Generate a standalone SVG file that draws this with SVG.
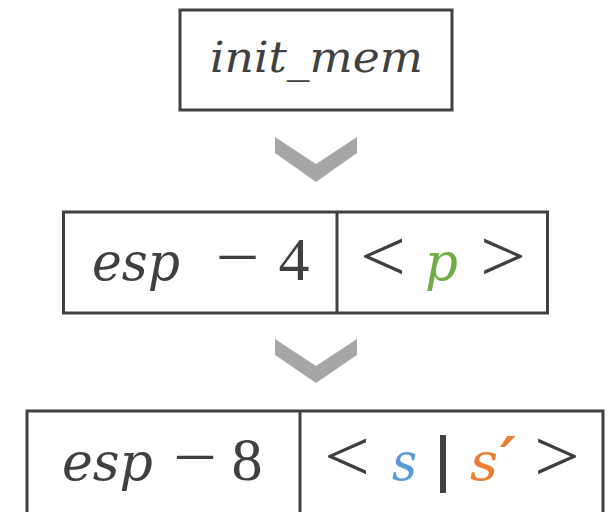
<svg xmlns="http://www.w3.org/2000/svg" width="608" height="512" viewBox="0 0 608 512">
<style>
.box{fill:#ffffff;stroke:#404040;stroke-width:3}
.div{stroke:#404040;stroke-width:3}
.var{font-family:"DejaVu Serif","Liberation Serif",serif;font-style:italic;fill:#404040}
.op{font-family:"Liberation Serif","DejaVu Serif",serif;fill:#404040;font-size:62px;text-anchor:middle}
.rel{font-family:"Liberation Serif","DejaVu Serif",serif;fill:#404040;font-size:74px;text-anchor:middle}
.chev{fill:#a6a6a6}
</style>
<rect width="608" height="512" fill="#ffffff"/>
<g id="init_mem">
<rect class="box" x="180" y="10" width="272" height="100"/>
<text class="var" x="210" y="72" font-size="42" textLength="213" lengthAdjust="spacingAndGlyphs">init_mem</text>
</g>
<g id="connectors">
<polygon class="chev" points="275,137 316,164 357,137 357,153 316,182 275,153"/>
<polygon class="chev" points="275,339 316,366 357,339 357,355 316,383 275,355"/>
</g>
<g id="esp4">
<rect class="box" x="63.5" y="212" width="484" height="101"/>
<line class="div" x1="337" y1="212" x2="337" y2="313"/>
<text class="var" x="92" y="280" font-size="52" textLength="88" lengthAdjust="spacingAndGlyphs">esp</text>
<text class="op" x="237.5" y="280" font-size="68" style="font-size:68px" textLength="44" lengthAdjust="spacingAndGlyphs">−</text>
<text class="op" x="294" y="280">4</text>
<text class="rel" x="383" y="281" textLength="46" lengthAdjust="spacingAndGlyphs">&lt;</text>
<text class="var" x="425" y="280" font-size="52" textLength="33" lengthAdjust="spacingAndGlyphs" style="fill:#70ad47">p</text>
<text class="rel" x="503" y="281" textLength="46" lengthAdjust="spacingAndGlyphs">&gt;</text>
</g>
<g id="esp8">
<rect class="box" x="27" y="411" width="576" height="120"/>
<line class="div" x1="300" y1="411" x2="300" y2="512"/>
<text class="var" x="62" y="480" font-size="52" textLength="91" lengthAdjust="spacingAndGlyphs">esp</text>
<text class="op" x="195" y="480" style="font-size:68px" textLength="44" lengthAdjust="spacingAndGlyphs">−</text>
<text class="op" x="247" y="480">8</text>
<text class="rel" x="347" y="481" textLength="46" lengthAdjust="spacingAndGlyphs">&lt;</text>
<text class="var" x="392" y="480" font-size="52" textLength="25" lengthAdjust="spacingAndGlyphs" style="fill:#5b9bd5">s</text>
<rect x="440" y="435" width="6" height="58" fill="#404040"/>
<text class="var" x="470" y="480" font-size="52" textLength="28" lengthAdjust="spacingAndGlyphs" style="fill:#ed7d31">s</text>
<text class="var" x="500" y="480" font-size="60" style="fill:#ed7d31;font-weight:bold">′</text>
<text class="rel" x="557" y="481" textLength="46" lengthAdjust="spacingAndGlyphs">&gt;</text>
</g>
</svg>
